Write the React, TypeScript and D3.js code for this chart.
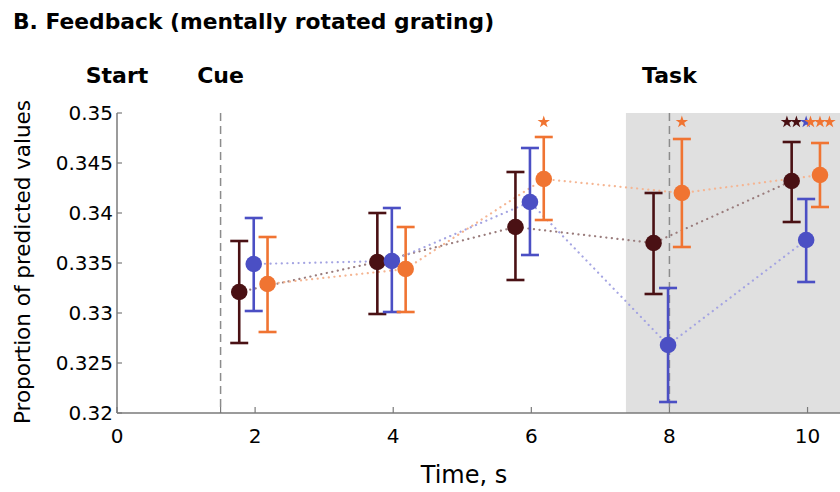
import React from 'react';
import * as d3 from 'd3';

// time points (s) of the three conditions
const times = [2, 4, 6, 8, 10];

const darkMean = [0.3321, 0.3351, 0.3386, 0.337, 0.3432];
const darkUpper = [0.3372, 0.34, 0.3441, 0.342, 0.3471];
const darkLower = [0.327, 0.3299, 0.3333, 0.3319, 0.3391];

const blueMean = [0.3349, 0.3352, 0.3411, 0.3268, 0.3373];
const blueUpper = [0.3395, 0.3405, 0.3465, 0.3325, 0.3414];
const blueLower = [0.3302, 0.3301, 0.3358, 0.3211, 0.3331];

const orangeMean = [0.3329, 0.3344, 0.3434, 0.342, 0.3438];
const orangeUpper = [0.3376, 0.3386, 0.3476, 0.3474, 0.347];
const orangeLower = [0.3281, 0.3301, 0.3393, 0.3366, 0.3406];

// number of significance stars per time point
const darkStars = [0, 0, 0, 0, 2];
const blueStars = [0, 0, 0, 0, 1];
const orangeStars = [0, 0, 1, 1, 3];

const yTicks = [0.32, 0.325, 0.33, 0.335, 0.34, 0.345, 0.35];
const yTickLabels = ['0.32', '0.325', '0.33', '0.335', '0.34', '0.345', '0.35'];
const xTicks = [0, 2, 4, 6, 8, 10];
const xTickLabels = ['0', '2', '4', '6', '8', '10'];

const events = [
  { label: 'Start', t: 0, line: false },
  { label: 'Cue', t: 1.5, line: true },
  { label: 'Task', t: 8, line: true },
];
const taskStart = 7.37;

const series = [
  { mean: darkMean, upper: darkUpper, lower: darkLower, stars: darkStars, color: '#4a1114', dot: '#9a7c7c', off: -0.23 },
  { mean: blueMean, upper: blueUpper, lower: blueLower, stars: blueStars, color: '#4b4fc4', dot: '#a4a4e2', off: -0.02 },
  { mean: orangeMean, upper: orangeUpper, lower: orangeLower, stars: orangeStars, color: '#f07432', dot: '#f5b592', off: 0.18 },
];

const W = 840;
const H = 492;
const FONT = 'DejaVu Sans, sans-serif';

export default function App() {
  const x = d3.scaleLinear().domain([0, 10.47]).range([117, 840]);
  const y = d3.scaleLinear().domain([0.32, 0.35]).range([413, 113]);
  const line = d3.line<number>();
  const star = d3.symbol().type(d3.symbolStar).size(48)();

  return (
    <svg width={W} height={H} style={{ position: 'absolute', left: 0, top: 0, background: '#fff' }}>
      <text x={13} y={29} fontFamily={FONT} fontWeight="bold" fontSize={21.8}>
        B. Feedback (mentally rotated grating)
      </text>

      <rect x={x(taskStart)} y={y(0.35)} width={W - x(taskStart)} height={y(0.32) - y(0.35)} fill="#e0e0e0" />

      {events.map((e) => (
        <g key={e.label}>
          <text x={x(e.t)} y={83} textAnchor="middle" fontFamily={FONT} fontWeight="bold" fontSize={22}>
            {e.label}
          </text>
          {e.line && (
            <line x1={x(e.t)} x2={x(e.t)} y1={y(0.35)} y2={y(0.32)} stroke="#8c8c8c" strokeWidth={1.5} strokeDasharray="8,5" />
          )}
        </g>
      ))}

      {series.map((s, k) => {
        const pts = times.map((t, i) => [x(t + s.off), y(s.mean[i])] as [number, number]);
        return (
          <path key={'d' + k} d={line(pts) || ''} fill="none" stroke={s.dot} strokeWidth={2.2}
            strokeLinecap="round" strokeDasharray="0.1,5.5" />
        );
      })}

      {series.map((s, k) => (
        <g key={'s' + k}>
          {times.map((t, i) => {
            const cx = x(t + s.off);
            return (
              <g key={i}>
                <line x1={cx} x2={cx} y1={y(s.upper[i])} y2={y(s.lower[i])} stroke={s.color} strokeWidth={2.6} />
                <line x1={cx - 9} x2={cx + 9} y1={y(s.upper[i])} y2={y(s.upper[i])} stroke={s.color} strokeWidth={2.6} />
                <line x1={cx - 9} x2={cx + 9} y1={y(s.lower[i])} y2={y(s.lower[i])} stroke={s.color} strokeWidth={2.6} />
                <circle cx={cx} cy={y(s.mean[i])} r={8.3} fill={s.color} />
                {d3.range(s.stars[i]).map((j) => (
                  <path key={j} d={star || ''} fill={s.color}
                    transform={`translate(${cx + (j - (s.stars[i] - 1) / 2) * 9.5},${y(0.3491)})`} />
                ))}
              </g>
            );
          })}
        </g>
      ))}

      {/* axes */}
      <line x1={x(0)} x2={x(0)} y1={y(0.35)} y2={y(0.32)} stroke="#7a7a7a" strokeWidth={1.5} />
      <line x1={x(0)} x2={W} y1={y(0.32)} y2={y(0.32)} stroke="#7a7a7a" strokeWidth={1.5} />
      {yTicks.map((v, i) => (
        <g key={'y' + i}>
          <line x1={x(0)} x2={x(0) + 5} y1={y(v)} y2={y(v)} stroke="#7a7a7a" strokeWidth={1.2} />
          <text x={x(0) - 4} y={y(v) + 7} textAnchor="end" fontFamily={FONT} fontSize={20}>
            {yTickLabels[i]}
          </text>
        </g>
      ))}
      {[1.5, ...xTicks].map((t) => (
        <line key={'xt' + t} x1={x(t)} x2={x(t)} y1={y(0.32)} y2={y(0.32) - 6} stroke="#7a7a7a" strokeWidth={1.2} />
      ))}
      {xTicks.map((t, i) => (
        <text key={'xl' + t} x={x(t)} y={443} textAnchor="middle" fontFamily={FONT} fontSize={20}>
          {xTickLabels[i]}
        </text>
      ))}
      <text x={464} y={483} textAnchor="middle" fontFamily={FONT} fontSize={24}>
        Time, s
      </text>
      <text transform={`translate(30,${y(0.3351)}) rotate(-90)`} textAnchor="middle" fontFamily={FONT} fontSize={21.5}>
        Proportion of predicted values
      </text>
    </svg>
  );
}
